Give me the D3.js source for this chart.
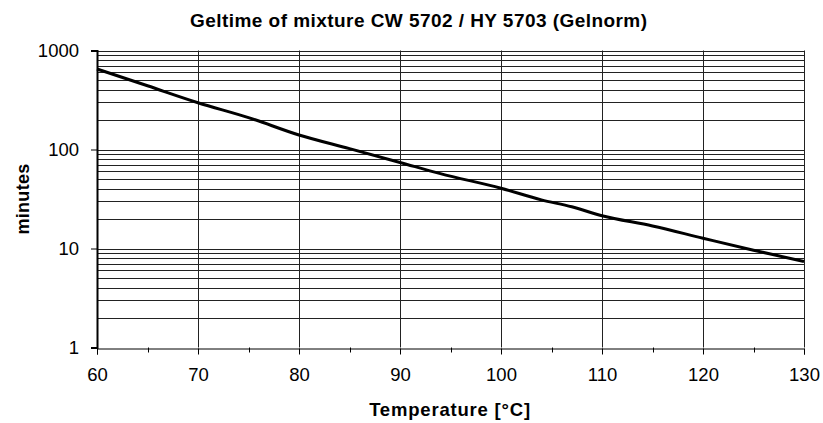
<!doctype html>
<html>
<head>
<script src="https://cdn.jsdelivr.net/npm/d3@7"></script>
<style>
  body { margin: 0; background: #fff; }
  text { font-family: "Liberation Sans", Arial, sans-serif; }
</style>
</head>
<body>
<svg width="823" height="423"></svg>
<script>
// geltime readings (minutes) against temperature (°C)
var temps   = [60, 65, 70, 75, 80, 85, 90, 94, 100, 104, 107, 110, 115, 120, 125, 130];
var minutes = [650, 440, 297, 210, 140, 102, 74, 57, 40.6, 31, 26.4, 21.4, 16.9, 12.7, 9.6, 7.4];
var xTicks = [60, 70, 80, 90, 100, 110, 120, 130];
var yTicks = [1, 10, 100, 1000];

var svg = d3.select("svg");
var plotL = 97, plotR = 804, plotT = 50.5, plotB = 347.5;

var x = d3.scaleLinear().domain([60, 130]).range([plotL, plotR]);
var y = d3.scaleLog().domain([1, 1000]).range([plotB, plotT]);

// horizontal grid: every 1..9 per decade
var yGrid = [];
for (var p = 0; p < 3; p++) {
    for (var k = 1; k <= 9; k++) yGrid.push(k * Math.pow(10, p));
}
yGrid.push(1000);

svg.append("g")
   .selectAll("line")
   .data(yGrid.filter(function(d) { return d > 1; }))
   .enter().append("line")
   .attr("x1", plotL).attr("x2", plotR)
   .attr("y1", function(d) { return Math.round(y(d)) + 0.5; })
   .attr("y2", function(d) { return Math.round(y(d)) + 0.5; })
   .attr("stroke", "#222")
   .attr("stroke-width", 1);

// vertical grid
svg.append("g")
   .selectAll("line")
   .data(xTicks.slice(1))
   .enter().append("line")
   .attr("x1", function(d) { return Math.round(x(d)) + 0.5; })
   .attr("x2", function(d) { return Math.round(x(d)) + 0.5; })
   .attr("y1", plotT).attr("y2", plotB)
   .attr("stroke", "#222")
   .attr("stroke-width", 1);

// x axis
var xAxis = svg.append("g")
   .attr("transform", "translate(0," + (Math.round(plotB) + 0.5) + ")")
   .call(d3.axisBottom(x).tickValues(xTicks).tickSize(6).tickPadding(13));
xAxis.selectAll(".tick line").attr("stroke", "#000");
xAxis.selectAll("text").attr("font-size", "18.5px").attr("fill", "#000")
     .attr("font-family", "Liberation Sans, Arial, sans-serif");
xAxis.select(".domain").attr("stroke", "#000");

// minor x ticks at the 5s
svg.append("g")
   .selectAll("line")
   .data(d3.range(65, 130, 10))
   .enter().append("line")
   .attr("x1", function(d) { return Math.round(x(d)) + 0.5; })
   .attr("x2", function(d) { return Math.round(x(d)) + 0.5; })
   .attr("y1", plotB).attr("y2", plotB + 5)
   .attr("stroke", "#000");

// y axis
var yAxis = svg.append("g")
   .attr("transform", "translate(" + plotL + ",0)")
   .call(d3.axisLeft(y).tickValues(yTicks).tickFormat(d3.format("d")).tickSize(6).tickPadding(12));
yAxis.selectAll(".tick line").attr("stroke", "#000");
yAxis.selectAll("text").attr("font-size", "18.5px").attr("fill", "#000")
     .attr("font-family", "Liberation Sans, Arial, sans-serif");
yAxis.select(".domain").attr("stroke", "#000").attr("stroke-width", 2);

// curve
var line = d3.line()
   .x(function(d, i) { return x(temps[i]); })
   .y(function(d) { return y(d); })
   .curve(d3.curveMonotoneX);

svg.append("path")
   .datum(minutes)
   .attr("d", line)
   .attr("fill", "none")
   .attr("stroke", "#000")
   .attr("stroke-width", 3);

// titles
svg.append("text")
   .attr("x", 190).attr("y", 26.5)
   .attr("font-size", "19px").attr("font-weight", "bold")
   .attr("letter-spacing", "0.45px")
   .text("Geltime of mixture CW 5702 / HY 5703 (Gelnorm)");

svg.append("text")
   .attr("x", 450).attr("y", 416)
   .attr("text-anchor", "middle")
   .attr("font-size", "18.5px").attr("font-weight", "bold")
   .attr("letter-spacing", "0.8px")
   .text("Temperature [°C]");

svg.append("text")
   .attr("transform", "translate(29,199) rotate(-90)")
   .attr("text-anchor", "middle")
   .attr("font-size", "18px").attr("font-weight", "bold")
   .attr("letter-spacing", "0.3px")
   .text("minutes");
</script>
</body>
</html>
